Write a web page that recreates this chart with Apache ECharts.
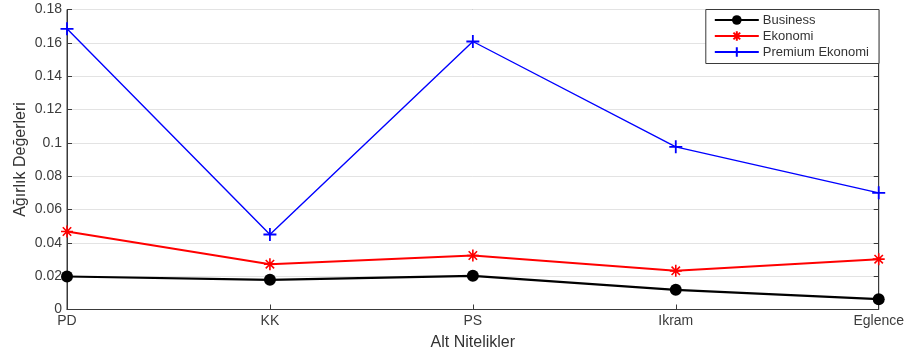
<!DOCTYPE html>
<html>
<head>
<meta charset="utf-8">
<script src="https://cdn.jsdelivr.net/npm/echarts@6/dist/echarts.min.js"></script>
<style>
  html, body { margin: 0; padding: 0; background: #fff; }
  #chart { width: 907px; height: 360px; }
</style>
</head>
<body>
<div id="chart"></div>
<script>
// Sub-criteria along the x axis
const categories = ['PD', 'KK', 'PS', 'Ikram', 'Eglence'];

// Weight values per cabin class
const business = [0.0198, 0.0178, 0.0202, 0.0118, 0.0062];
const ekonomi = [0.0468, 0.0272, 0.0324, 0.0232, 0.0302];
const premiumEkonomi = [0.1684, 0.0450, 0.1608, 0.0976, 0.0700];

const yTicks = { min: 0, max: 0.18, interval: 0.02 };

const FONT = '"Liberation Sans", Arial, Helvetica, sans-serif';

// Marker shapes: eight-armed asterisk and plus sign
const asterisk = 'path://M0,-10L0,10M-10,0L10,0M-7,-7L7,7M-7,7L7,-7';
const plus = 'path://M0,-10L0,10M-10,0L10,0';

const chart = echarts.init(document.getElementById('chart'), null, { renderer: 'canvas' });

chart.setOption({
  animation: false,
  backgroundColor: '#ffffff',
  textStyle: { fontFamily: FONT },
  grid: {
    left: 67, right: 28, top: 9.5, bottom: 50.5,
    show: true, borderColor: '#3a3a3a', borderWidth: 1, backgroundColor: 'transparent'
  },
  legend: {
    orient: 'vertical',
    right: 28, top: 9.5,
    itemWidth: 44, itemHeight: 12, itemGap: 3,
    padding: [4, 10, 5, 8],
    borderColor: '#3a3a3a', borderWidth: 1,
    backgroundColor: '#ffffff',
    textStyle: { fontFamily: FONT, fontSize: 13, color: '#333', padding: [0, 0, 0, -1] },
    data: ['Business', 'Ekonomi', 'Premium Ekonomi']
  },
  xAxis: {
    type: 'category',
    data: categories,
    boundaryGap: false,
    name: 'Alt Nitelikler',
    nameLocation: 'middle',
    nameGap: 25,
    nameTextStyle: { fontFamily: FONT, fontSize: 16, color: '#333' },
    axisLine: { lineStyle: { color: '#3a3a3a', width: 1 } },
    axisTick: { inside: true, length: 5, lineStyle: { color: '#3a3a3a' } },
    axisLabel: { fontFamily: FONT, fontSize: 14, color: '#3c3c3c', margin: 5 },
    splitLine: { show: false }
  },
  yAxis: [
    {
      type: 'value',
      min: yTicks.min, max: yTicks.max, interval: yTicks.interval,
      name: 'Ağırlık Değerleri',
      nameLocation: 'middle',
      nameGap: 38,
      nameMoveOverlap: false,
      nameTextStyle: { fontFamily: FONT, fontSize: 16, color: '#333' },
      axisLine: { show: true, lineStyle: { color: '#3a3a3a', width: 1 } },
      axisTick: { show: true, inside: true, length: 5, lineStyle: { color: '#3a3a3a' } },
      axisLabel: {
        fontFamily: FONT, fontSize: 14, color: '#3c3c3c', margin: 5,
        formatter: v => String(+v.toFixed(2))
      },
      splitLine: { show: true, lineStyle: { color: '#e3e3e3', width: 1 } }
    },
    {
      type: 'value',
      position: 'right',
      min: yTicks.min, max: yTicks.max, interval: yTicks.interval,
      axisLine: { show: true, lineStyle: { color: '#3a3a3a', width: 1 } },
      axisTick: { show: true, inside: true, length: 5, lineStyle: { color: '#3a3a3a' } },
      axisLabel: { show: false },
      splitLine: { show: false }
    }
  ],
  series: [
    {
      name: 'Business',
      type: 'line',
      data: business,
      symbol: 'circle',
      symbolSize: 12,
      showAllSymbol: true,
      lineStyle: { color: '#000', width: 2.2 },
      itemStyle: { color: '#000', borderColor: '#000', borderWidth: 0 },
      z: 4
    },
    {
      name: 'Ekonomi',
      type: 'line',
      data: ekonomi,
      symbol: asterisk,
      symbolSize: 12,
      showAllSymbol: true,
      lineStyle: { color: '#ff0000', width: 2 },
      itemStyle: { color: '#ff0000', borderColor: '#ff0000', borderWidth: 1.6 },
      z: 3
    },
    {
      name: 'Premium Ekonomi',
      type: 'line',
      data: premiumEkonomi,
      symbol: plus,
      symbolSize: 13,
      showAllSymbol: true,
      lineStyle: { color: '#0000ff', width: 1.4 },
      itemStyle: { color: '#0000ff', borderColor: '#0000ff', borderWidth: 1.8 },
      z: 2
    }
  ]
});
</script>
</body>
</html>
